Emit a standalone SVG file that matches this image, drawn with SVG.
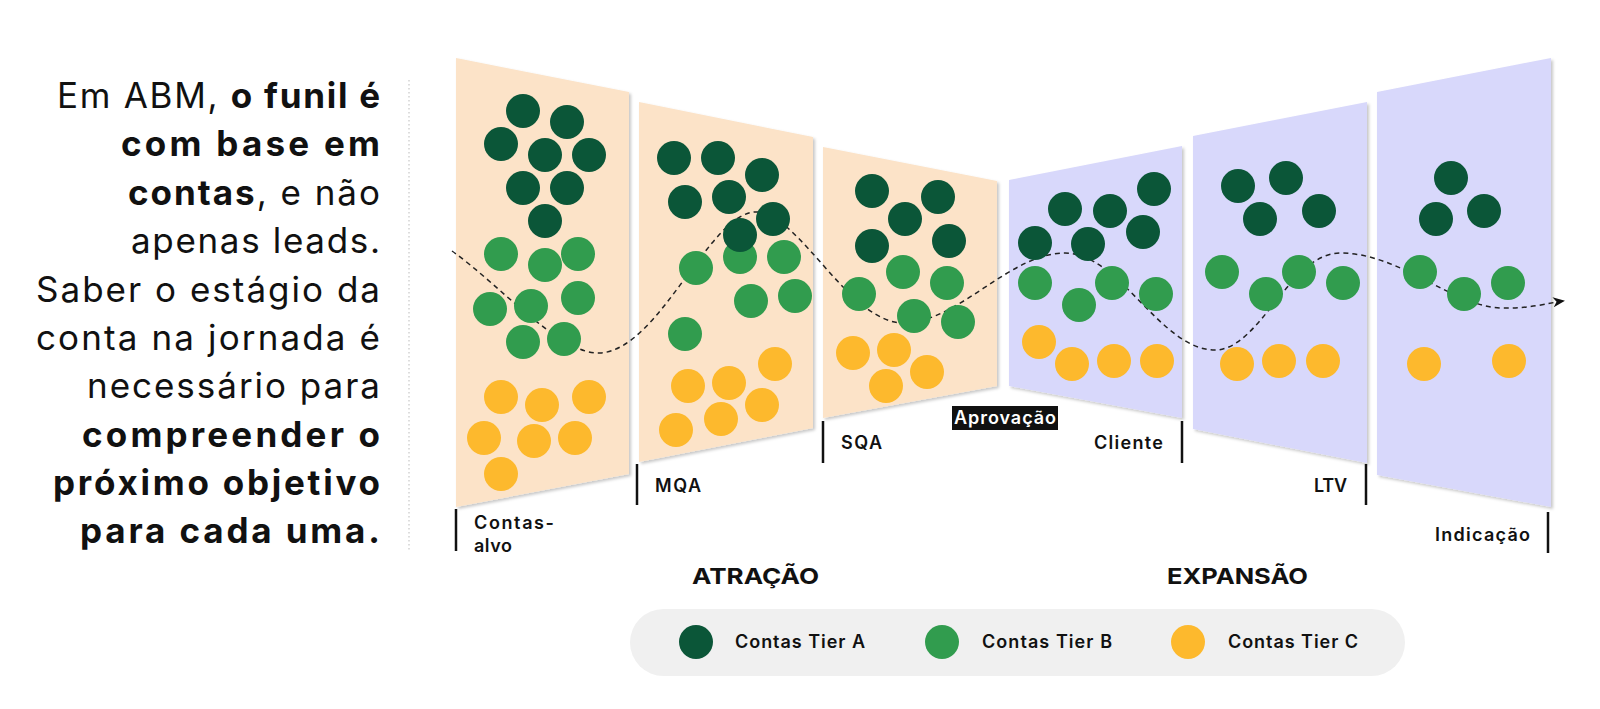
<svg xmlns="http://www.w3.org/2000/svg" width="1600" height="709" viewBox="0 0 1600 709">
<defs>
<filter id="sh" x="-10%" y="-10%" width="130%" height="130%">
<feDropShadow dx="2" dy="2" stdDeviation="1.5" flood-color="#000" flood-opacity="0.22"/>
</filter>
<marker id="arr" viewBox="0 0 12 10" refX="10" refY="5" markerWidth="12" markerHeight="10" markerUnits="userSpaceOnUse" orient="auto">
<path d="M0,0 L12,5 L0,10 L3.5,5 Z" fill="#111"/>
</marker>
</defs>
<style>
.peach{fill:#fce3c8;filter:url(#sh)}
.lav{fill:#d8d8fb;filter:url(#sh)}
.a{fill:#0b5638}
.b{fill:#319c4e}
.c{fill:#fdb92d}
.tick{stroke:#111;stroke-width:2.5}
.lbl{font-family:Inter,"Liberation Sans",sans-serif;font-weight:600;font-size:18px;fill:#111}
.main{font-family:Inter,"Liberation Sans",sans-serif;font-size:35px;fill:#111}
.bd{font-weight:700}
.stage{font-family:Inter,"Liberation Sans",sans-serif;font-weight:700;font-size:22px;fill:#111}
.leg{font-family:Inter,"Liberation Sans",sans-serif;font-weight:600;font-size:18px;fill:#111}
</style>
<rect width="1600" height="709" fill="#fff"/>

<g id="intro">
<text class="main" x="57" y="108" textLength="323" lengthAdjust="spacing">Em ABM, <tspan class="bd">o funil é</tspan></text>
<text class="main bd" x="121" y="156" textLength="259" lengthAdjust="spacing">com base em</text>
<text class="main" x="128" y="205" textLength="252" lengthAdjust="spacing"><tspan class="bd">contas</tspan>, e não</text>
<text class="main" x="131" y="253" textLength="249" lengthAdjust="spacing">apenas leads.</text>
<text class="main" x="36" y="302" textLength="344" lengthAdjust="spacing">Saber o estágio da</text>
<text class="main" x="36" y="350" textLength="344" lengthAdjust="spacing">conta na jornada é</text>
<text class="main" x="87" y="398" textLength="293" lengthAdjust="spacing">necessário para</text>
<text class="main bd" x="82" y="447" textLength="298" lengthAdjust="spacing">compreender o</text>
<text class="main bd" x="53" y="495" textLength="327" lengthAdjust="spacing">próximo objetivo</text>
<text class="main bd" x="80" y="543" textLength="300" lengthAdjust="spacing">para cada uma.</text>
<line x1="409" y1="80" x2="409" y2="552" stroke="#bbb" stroke-width="1" stroke-dasharray="1.5 2.5"/>
</g>

<g id="panel-contas-alvo">
<polygon class="peach" points="456,58 629,92 629,474 456,507"/>
<line class="tick" x1="456" y1="509" x2="456" y2="551"/>
<text class="lbl" x="474" y="529" textLength="80" lengthAdjust="spacing">Contas-</text>
<text class="lbl" x="474" y="552" textLength="38" lengthAdjust="spacing">alvo</text>
</g>
<g id="panel-mqa">
<polygon class="peach" points="639,102 813,137 813,428 639,462"/>
<line class="tick" x1="637" y1="464" x2="637" y2="505"/>
<text class="lbl" x="655" y="492" textLength="46" lengthAdjust="spacing">MQA</text>
</g>
<g id="panel-sqa">
<polygon class="peach" points="823,147 997,181 997,386 823,418"/>
<line class="tick" x1="823" y1="421" x2="823" y2="463"/>
<text class="lbl" x="841" y="449" textLength="41" lengthAdjust="spacing">SQA</text>
</g>
<g id="aprovacao">
<rect x="952" y="406" width="106" height="24" fill="#111"/>
<text class="lbl" x="954" y="424" textLength="102" lengthAdjust="spacing" style="fill:#fff">Aprovação</text>
</g>
<g id="panel-cliente">
<polygon class="lav" points="1009,180 1182,146 1182,418 1009,386"/>
<line class="tick" x1="1182" y1="421" x2="1182" y2="463"/>
<text class="lbl" x="1094" y="449" textLength="69" lengthAdjust="spacing">Cliente</text>
</g>
<g id="panel-ltv">
<polygon class="lav" points="1193,136 1367,102 1367,463 1193,429"/>
<line class="tick" x1="1366" y1="464" x2="1366" y2="505"/>
<text class="lbl" x="1314" y="492" textLength="33" lengthAdjust="spacing">LTV</text>
</g>
<g id="panel-indicacao">
<polygon class="lav" points="1377,92 1551,58 1551,507 1377,475"/>
<line class="tick" x1="1548" y1="512" x2="1548" y2="553"/>
<text class="lbl" x="1435" y="541" textLength="95" lengthAdjust="spacing">Indicação</text>
</g>

<g id="connectors">
<path d="M452,251 C500,285 560,355 600,353 C660,350 710,210 757,212 C800,214 850,325 905,323 C960,321 1010,253 1065,253 C1120,253 1160,350 1215,350 C1260,350 1290,253 1340,253 C1400,253 1450,305 1500,308 C1530,309 1548,303 1563,301" fill="none" stroke="#222" stroke-width="1.5" stroke-dasharray="5 4" marker-end="url(#arr)"/>
</g>

<g id="dots-contas-alvo">
<circle class="b" cx="501" cy="254" r="17"/><circle class="b" cx="545" cy="265" r="17"/><circle class="b" cx="578" cy="254" r="17"/>
<circle class="b" cx="490" cy="309" r="17"/><circle class="b" cx="531" cy="306" r="17"/><circle class="b" cx="578" cy="298" r="17"/>
<circle class="b" cx="523" cy="342" r="17"/><circle class="b" cx="564" cy="339" r="17"/>
<circle class="a" cx="523" cy="111" r="17"/><circle class="a" cx="567" cy="122" r="17"/><circle class="a" cx="501" cy="144" r="17"/>
<circle class="a" cx="545" cy="155" r="17"/><circle class="a" cx="589" cy="155" r="17"/><circle class="a" cx="523" cy="188" r="17"/>
<circle class="a" cx="567" cy="188" r="17"/><circle class="a" cx="545" cy="221" r="17"/>
<circle class="c" cx="501" cy="397" r="17"/><circle class="c" cx="542" cy="405" r="17"/><circle class="c" cx="589" cy="397" r="17"/>
<circle class="c" cx="484" cy="438" r="17"/><circle class="c" cx="534" cy="441" r="17"/><circle class="c" cx="575" cy="438" r="17"/>
<circle class="c" cx="501" cy="474" r="17"/>
</g>
<g id="dots-mqa">
<circle class="b" cx="740" cy="257" r="17"/><circle class="b" cx="784" cy="257" r="17"/><circle class="b" cx="696" cy="268" r="17"/>
<circle class="b" cx="751" cy="301" r="17"/><circle class="b" cx="795" cy="296" r="17"/><circle class="b" cx="685" cy="334" r="17"/>
<circle class="a" cx="674" cy="158" r="17"/><circle class="a" cx="718" cy="158" r="17"/><circle class="a" cx="762" cy="175" r="17"/>
<circle class="a" cx="685" cy="202" r="17"/><circle class="a" cx="729" cy="197" r="17"/><circle class="a" cx="773" cy="219" r="17"/>
<circle class="a" cx="740" cy="235" r="17"/>
<circle class="c" cx="775" cy="364" r="17"/><circle class="c" cx="688" cy="386" r="17"/><circle class="c" cx="729" cy="383" r="17"/>
<circle class="c" cx="762" cy="405" r="17"/><circle class="c" cx="676" cy="430" r="17"/><circle class="c" cx="721" cy="419" r="17"/>
</g>
<g id="dots-sqa">
<circle class="a" cx="872" cy="191" r="17"/><circle class="a" cx="938" cy="197" r="17"/><circle class="a" cx="905" cy="219" r="17"/>
<circle class="a" cx="872" cy="246" r="17"/><circle class="a" cx="949" cy="241" r="17"/>
<circle class="b" cx="903" cy="272" r="17"/><circle class="b" cx="947" cy="283" r="17"/><circle class="b" cx="859" cy="294" r="17"/>
<circle class="b" cx="914" cy="316" r="17"/><circle class="b" cx="958" cy="322" r="17"/>
<circle class="c" cx="853" cy="353" r="17"/><circle class="c" cx="894" cy="350" r="17"/><circle class="c" cx="927" cy="372" r="17"/>
<circle class="c" cx="886" cy="386" r="17"/>
</g>
<g id="dots-cliente">
<circle class="a" cx="1154" cy="189" r="17"/><circle class="a" cx="1065" cy="209" r="17"/><circle class="a" cx="1110" cy="211" r="17"/>
<circle class="a" cx="1143" cy="232" r="17"/><circle class="a" cx="1035" cy="243" r="17"/><circle class="a" cx="1088" cy="244" r="17"/>
<circle class="b" cx="1035" cy="283" r="17"/><circle class="b" cx="1112" cy="283" r="17"/><circle class="b" cx="1079" cy="305" r="17"/>
<circle class="b" cx="1156" cy="294" r="17"/>
<circle class="c" cx="1039" cy="342" r="17"/><circle class="c" cx="1072" cy="364" r="17"/><circle class="c" cx="1114" cy="361" r="17"/>
<circle class="c" cx="1157" cy="361" r="17"/>
</g>
<g id="dots-ltv">
<circle class="a" cx="1238" cy="186" r="17"/><circle class="a" cx="1286" cy="178" r="17"/><circle class="a" cx="1260" cy="219" r="17"/>
<circle class="a" cx="1319" cy="211" r="17"/>
<circle class="b" cx="1222" cy="272" r="17"/><circle class="b" cx="1266" cy="294" r="17"/><circle class="b" cx="1299" cy="272" r="17"/>
<circle class="b" cx="1343" cy="283" r="17"/>
<circle class="c" cx="1237" cy="364" r="17"/><circle class="c" cx="1279" cy="361" r="17"/><circle class="c" cx="1323" cy="361" r="17"/>
</g>
<g id="dots-indicacao">
<circle class="a" cx="1451" cy="178" r="17"/><circle class="a" cx="1436" cy="219" r="17"/><circle class="a" cx="1484" cy="211" r="17"/>
<circle class="b" cx="1420" cy="272" r="17"/><circle class="b" cx="1464" cy="294" r="17"/><circle class="b" cx="1508" cy="283" r="17"/>
<circle class="c" cx="1424" cy="364" r="17"/><circle class="c" cx="1509" cy="361" r="17"/>
</g>

<g id="stages">
<text class="stage" x="692" y="584" textLength="127" lengthAdjust="spacingAndGlyphs">ATRAÇÃO</text>
<text class="stage" x="1167" y="584" textLength="141" lengthAdjust="spacingAndGlyphs">EXPANSÃO</text>
</g>

<g id="legend">
<rect x="630" y="609" width="775" height="67" rx="33.5" fill="#f0f0f0"/>
<circle class="a" cx="696" cy="642" r="17"/>
<text class="leg" x="735" y="648" textLength="130" lengthAdjust="spacing">Contas Tier A</text>
<circle class="b" cx="942" cy="642" r="17"/>
<text class="leg" x="982" y="648" textLength="130" lengthAdjust="spacing">Contas Tier B</text>
<circle class="c" cx="1188" cy="642" r="17"/>
<text class="leg" x="1228" y="648" textLength="130" lengthAdjust="spacing">Contas Tier C</text>
</g>
</svg>
